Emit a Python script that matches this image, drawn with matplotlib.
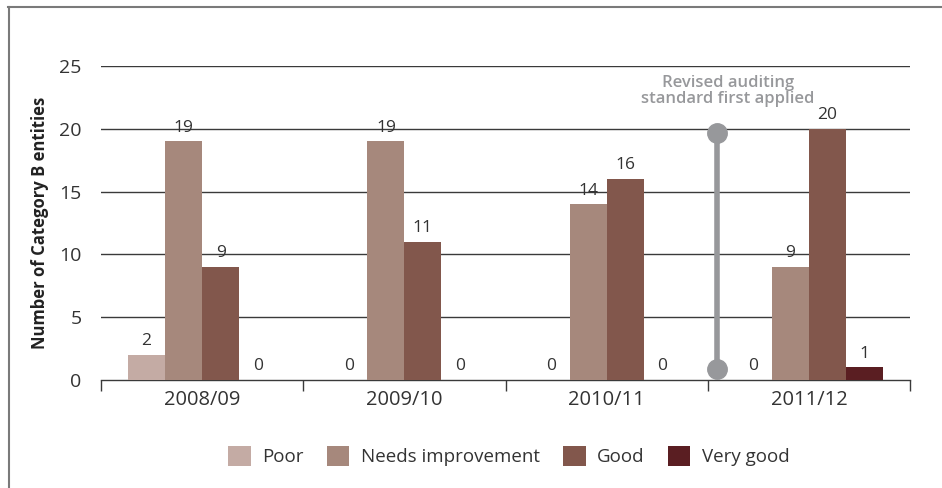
import matplotlib
matplotlib.use("Agg")
import matplotlib.pyplot as plt
import numpy as np
from matplotlib.lines import Line2D

plt.rcParams['font.family'] = ['Open Sans', 'DejaVu Sans']

years = ["2008/09", "2009/10", "2010/11", "2011/12"]
series_names = ["Poor", "Needs improvement", "Good", "Very good"]
poor = [2, 0, 0, 0]
needs_improvement = [19, 19, 14, 9]
good = [9, 11, 16, 20]
very_good = [0, 0, 0, 1]
colors = ["#c4aba4", "#a6887c", "#82574c", "#5a1e22"]
y_ticks = [0, 5, 10, 15, 20, 25]

annot_x = 2.545
annot_y = [0.9, 19.65]
annot_text = "Revised auditing\nstandard first applied"

fig = plt.figure(figsize=(9.42, 4.88), dpi=100)
ax = fig.add_axes([101/942, 1-380/488, (910-101)/942, (380-66)/488])

x = np.arange(len(years))
w = 0.183
data = [poor, needs_improvement, good, very_good]
for i, (name, vals, c) in enumerate(zip(series_names, data, colors)):
    pos = x + (i - 1.5) * w
    ax.bar(pos, vals, width=w, color=c, label=name, zorder=3)
    for px, v in zip(pos, vals):
        ax.text(px, v + 0.45, str(v), ha='center', va='bottom', fontsize=12.5, color='#333333', zorder=4)

ax.set_xlim(-0.5, 3.5)
ax.set_ylim(0, 25)
ax.set_yticks(y_ticks)
for t in y_ticks[1:]:
    ax.axhline(t, color='#3a3a3a', lw=1.0, zorder=1)
for s in ['top', 'right', 'left']:
    ax.spines[s].set_visible(False)
ax.spines['bottom'].set_color('#3a3a3a')
ax.spines['bottom'].set_linewidth(1.0)
ax.tick_params(axis='y', length=0, labelsize=14, labelcolor='#333333', pad=14)
ax.set_xticks(x)
ax.set_xticklabels(years)
ax.tick_params(axis='x', length=0, labelsize=14.5, labelcolor='#333333', pad=7)
ax.set_xticks(np.arange(-0.5, 4.0, 1.0), minor=True)
ax.tick_params(axis='x', which='minor', length=8, direction='out', color='#3a3a3a', width=1)
ax.set_ylabel("Number of Category B entities", fontsize=12, fontweight='bold', color='#222222', labelpad=7)

# annotation marker
ax.plot([annot_x, annot_x], annot_y, color='#97989b', lw=4, zorder=5, solid_capstyle='butt')
ax.plot([annot_x, annot_x], annot_y, 'o', color='#97989b', ms=14, zorder=6)
ax.text(annot_x + 0.055, 21.75, annot_text, ha='center', va='bottom', fontsize=12,
        fontweight='semibold', color='#97989b', linespacing=0.95, zorder=6)

fig.legend(loc='center', bbox_to_anchor=(0.54, 0.065), ncol=4, frameon=False,
           fontsize=13.5, handlelength=1.2, handleheight=1.2, columnspacing=1.25,
           handletextpad=0.6, labelcolor='#333333')

# frame lines
fig.add_artist(Line2D([8/942, 1.0], [1-7/488, 1-7/488], transform=fig.transFigure, color='#7a7a7a', lw=1.5))
fig.add_artist(Line2D([9/942, 9/942], [0, 1-7/488], transform=fig.transFigure, color='#7a7a7a', lw=1.5))

fig.savefig("out.png", dpi=100)
